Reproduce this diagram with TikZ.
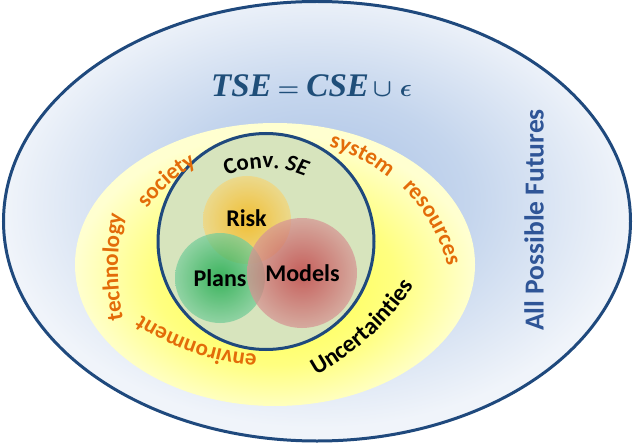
\documentclass[tikz,border=0pt]{standalone}
\usepackage{fontspec}
\setmainfont{Carlito}
\newfontfamily\formfont{Liberation Serif}
\usetikzlibrary{decorations.text}
\definecolor{frameblue}{HTML}{1F497D}
\definecolor{futblue}{HTML}{2F5597}
\definecolor{formblue}{HTML}{1F4E79}
\definecolor{orangetxt}{HTML}{E36C09}
\definecolor{convfill}{HTML}{D7E4BD}
\definecolor{bgA}{HTML}{A9C1E5}
\definecolor{bgB}{HTML}{C4D5ED}
\definecolor{bgC}{HTML}{F0F4FA}
\definecolor{yA}{HTML}{FFFF40}
\definecolor{yB}{HTML}{FFFF80}
\definecolor{yC}{HTML}{FFFFD0}
\definecolor{riskA}{HTML}{FBB100}
\definecolor{riskB}{HTML}{F4D57A}
\definecolor{plansA}{HTML}{00A139}
\definecolor{plansB}{HTML}{76CD9A}
\definecolor{modelsA}{HTML}{BE2C36}
\definecolor{modelsB}{HTML}{D69594}
\pgfdeclareradialshading{bluebg}{\pgfpoint{0bp}{3bp}}{color(0bp)=(bgA); color(12bp)=(bgB); color(25bp)=(bgC); color(50bp)=(bgC)}
\pgfdeclareradialshading{yellowbg}{\pgfpoint{0bp}{-4bp}}{color(0bp)=(yA); color(15bp)=(yB); color(25bp)=(yC); color(50bp)=(yC)}
\newcommand\orfont{\fontsize{23}{27}\selectfont\bfseries}
\newcommand\blkfont{\fontsize{24}{28}\selectfont\bfseries}
\newcommand\cvfont{\fontsize{23}{27}\selectfont\bfseries}
\tikzset{
  curvedorange/.style={decorate, decoration={text along path, text align=center, text color=orangetxt, text={|\orfont|#1}}},
  curvedblack/.style={decorate, decoration={text along path, text align=center, text color=black, text={#1}}},
  bubble/.style={fill opacity=0.72},
  biglabel/.style={font=\fontsize{24}{28}\selectfont\bfseries, inner sep=0pt, text=black},
}
\begin{document}
\begin{tikzpicture}[x=1pt,y=1pt]
\useasboundingbox (0,0) rectangle (634,445);
% outer ellipse
\shadedraw[shading=bluebg, draw=frameblue, line width=3pt] (317,223.75) ellipse[x radius=313.5pt, y radius=219.75pt];
% yellow ellipse
\shade[shading=yellowbg] (275,180.5) ellipse[x radius=200pt, y radius=141.5pt];
% conventional SE circle
\draw[frameblue, line width=3pt, fill=convfill] (266,203.5) circle[radius=108pt];
% bubbles
\shade[bubble, inner color=riskA, outer color=riskB] (247,225) circle[radius=44pt];
\shade[bubble, inner color=plansA, outer color=plansB] (220,167) circle[radius=45pt];
\shade[bubble, inner color=modelsA, outer color=modelsB] (302,172) circle[radius=55pt];
% labels
\node[biglabel] (risk) at (246.5,226.5) {Risk};
\node[biglabel] (plans) at (220,166.5) {Plans};
\node[biglabel] (models) at (302.5,171.5) {Models};
% formula
\node[anchor=base west, inner sep=0pt, text=formblue, font=\fontsize{33}{36}\selectfont\formfont\bfseries\itshape\boldmath] (formula) at (211,348) {TSE\hspace{6pt}$=$\hspace{7pt}CSE\hspace{4pt}$\cup$\hspace{8pt}$\epsilon$};
% all possible futures
\node[rotate=90, inner sep=0pt, text=futblue, font=\fontsize{27.5}{30}\selectfont\bfseries] (apf) at (534,225) {All Possible Futures};
% curved texts
\path[curvedblack={|\cvfont|Conv. |\cvfont\itshape|SE}] ([shift={(125:100pt)}]266,177) arc[start angle=125, end angle=55, radius=100pt];
\path[curvedorange={society}] ([shift={(160:168pt)}]282,136) arc[start angle=160, end angle=104, radius=168pt];
\path[curvedorange={system}] ([shift={(90:169pt)}]282,136) arc[start angle=90, end angle=35, radius=169pt];
\path[curvedorange={resources}] ([shift={(58:171pt)}]282,136) arc[start angle=58, end angle=2, radius=171pt];
\path[curvedorange={technology}] ([shift={(193:270pt)}]388,178) arc[start angle=193, end angle=167, radius=270pt];
\path[curvedorange={environment}] ([shift={(272:246.5pt)}]277,336) arc[start angle=272, end angle=230, radius=246.5pt];
\path[curvedblack={|\blkfont|Uncertainties}] ([shift={(-75:288pt)}]176,321) arc[start angle=-75, end angle=-20, radius=288pt];
\end{tikzpicture}
\end{document}
